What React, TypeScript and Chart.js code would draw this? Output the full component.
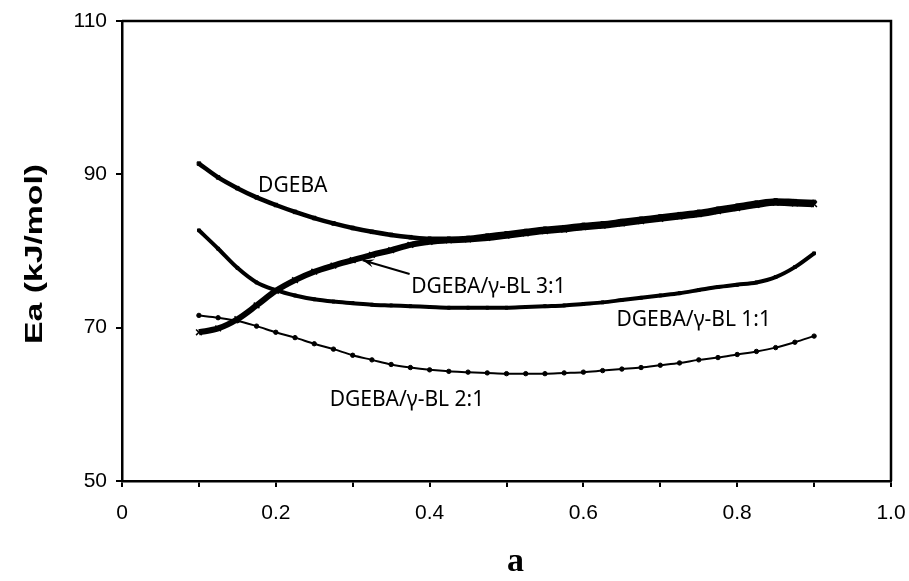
import React, { useEffect, useRef } from "react";
import { Chart, registerables } from "chart.js";

Chart.register(...registerables);

// Conversion (alpha) values
const alpha = [
  0.1, 0.125, 0.15, 0.175, 0.2, 0.225, 0.25, 0.275, 0.3, 0.325, 0.35, 0.375,
  0.4, 0.425, 0.45, 0.475, 0.5, 0.525, 0.55, 0.575, 0.6, 0.625, 0.65, 0.675,
  0.7, 0.725, 0.75, 0.775, 0.8, 0.825, 0.85, 0.875, 0.9,
];

// Activation energy Ea (kJ/mol)
const eaDGEBA = [
  91.4, 89.6, 88.2, 87.0, 86.0, 85.1, 84.3, 83.6, 83.0, 82.5, 82.1, 81.8,
  81.6, 81.6, 81.7, 82.0, 82.3, 82.6, 82.9, 83.1, 83.4, 83.6, 83.9, 84.2,
  84.5, 84.8, 85.1, 85.5, 85.9, 86.3, 86.6, 86.5, 86.4,
];
const ea31 = [
  69.4, 69.9, 71.1, 72.9, 74.8, 76.2, 77.3, 78.1, 78.8, 79.5, 80.1, 80.8,
  81.2, 81.4, 81.5, 81.7, 82.0, 82.3, 82.6, 82.8, 83.1, 83.3, 83.6, 83.9,
  84.2, 84.5, 84.8, 85.2, 85.6, 86.0, 86.3, 86.2, 86.1,
];
const ea11 = [
  82.7, 80.3, 77.8, 75.9, 74.9, 74.2, 73.7, 73.4, 73.2, 73.0, 72.9, 72.8,
  72.7, 72.6, 72.6, 72.6, 72.6, 72.7, 72.8, 72.9, 73.1, 73.3, 73.6, 73.9,
  74.2, 74.5, 74.9, 75.3, 75.6, 75.9, 76.6, 77.9, 79.7,
];
const ea21 = [
  71.6, 71.3, 70.9, 70.2, 69.4, 68.7, 67.9, 67.2, 66.4, 65.8, 65.2, 64.8,
  64.5, 64.3, 64.2, 64.1, 64.0, 64.0, 64.0, 64.1, 64.2, 64.4, 64.6, 64.8,
  65.1, 65.4, 65.8, 66.1, 66.5, 66.9, 67.4, 68.1, 68.9,
];

const xTickLabels = ["0", "0.2", "0.4", "0.6", "0.8", "1.0"];
const yTickLabels = ["50", "70", "90", "110"];

const seriesNames = ["DGEBA", "DGEBA/γ-BL 3:1", "DGEBA/γ-BL 1:1", "DGEBA/γ-BL 2:1"];
// label anchor positions (data coordinates: alpha, Ea), left-aligned, vertically centred
const labelAnchors = [
  [0.177, 88.5],
  [0.376, 75.3],
  [0.643, 71.0],
  [0.27, 60.6],
];
const arrowFrom = [0.374, 77.0];
const arrowTo = [0.313, 78.8];

const yTitle = "Ea (kJ/mol)";
const xTitle = "a";

const toPoints = (ys: number[]) => alpha.map((x, i) => ({ x, y: ys[i] }));

export default function App() {
  const ref = useRef<HTMLCanvasElement | null>(null);

  useEffect(() => {
    if (!ref.current) return;

    const annotate = {
      id: "annotate",
      afterDraw(chart: any) {
        const { ctx, chartArea, scales } = chart;
        const xs = scales.x;
        const ys = scales.y;
        ctx.save();
        // frame top/right
        ctx.strokeStyle = "#000";
        ctx.lineWidth = 2.5;
        ctx.beginPath();
        ctx.moveTo(chartArea.left, chartArea.top);
        ctx.lineTo(chartArea.right, chartArea.top);
        ctx.lineTo(chartArea.right, chartArea.bottom);
        ctx.stroke();

        // series labels
        ctx.fillStyle = "#000";
        ctx.font = '21px "Noto Sans"';
        ctx.textAlign = "left";
        ctx.textBaseline = "middle";
        seriesNames.forEach((name, i) => {
          const [ax, ay] = labelAnchors[i];
          ctx.fillText(name, xs.getPixelForValue(ax), ys.getPixelForValue(ay));
        });

        // arrow
        const x1 = xs.getPixelForValue(arrowFrom[0]);
        const y1 = ys.getPixelForValue(arrowFrom[1]);
        const x2 = xs.getPixelForValue(arrowTo[0]);
        const y2 = ys.getPixelForValue(arrowTo[1]);
        ctx.lineWidth = 2;
        ctx.beginPath();
        ctx.moveTo(x1, y1);
        ctx.lineTo(x2, y2);
        ctx.stroke();
        const ang = Math.atan2(y2 - y1, x2 - x1);
        const hl = 12;
        ctx.beginPath();
        ctx.moveTo(x2, y2);
        ctx.lineTo(x2 - hl * Math.cos(ang - 0.35), y2 - hl * Math.sin(ang - 0.35));
        ctx.lineTo(x2 - hl * 0.6 * Math.cos(ang), y2 - hl * 0.6 * Math.sin(ang));
        ctx.lineTo(x2 - hl * Math.cos(ang + 0.35), y2 - hl * Math.sin(ang + 0.35));
        ctx.closePath();
        ctx.fill();

        // axis titles
        ctx.font = 'bold 23px "Liberation Sans", Arial, sans-serif';
        ctx.textAlign = "center";
        ctx.textBaseline = "middle";
        const w = ctx.measureText(yTitle).width;
        ctx.save();
        ctx.translate(36, (chartArea.top + chartArea.bottom) / 2 + 3);
        ctx.rotate(-Math.PI / 2);
        ctx.scale(180 / w, 1);
        ctx.fillText(yTitle, 0, 0);
        ctx.restore();

        ctx.font = 'bold 34px "Liberation Serif", "Times New Roman", serif';
        ctx.fillText(xTitle, (chartArea.left + chartArea.right) / 2 + 9, 562);
        ctx.restore();
      },
    };

    const chart = new Chart(ref.current, {
      type: "line",
      data: {
        datasets: [
          {
            label: seriesNames[0],
            data: toPoints(eaDGEBA),
            borderColor: "#000",
            backgroundColor: "#000",
            borderWidth: 4.5,
            pointStyle: "rect",
            pointRadius: 2.5,
            pointBorderWidth: 1,
            cubicInterpolationMode: "monotone",
          },
          {
            label: seriesNames[1],
            data: toPoints(ea31),
            borderColor: "#000",
            backgroundColor: "#000",
            borderWidth: 6,
            pointStyle: "crossRot",
            pointRadius: 4,
            pointBorderWidth: 1.5,
            cubicInterpolationMode: "monotone",
          },
          {
            label: seriesNames[2],
            data: toPoints(ea11),
            borderColor: "#000",
            backgroundColor: "#000",
            borderWidth: 4,
            pointStyle: "rect",
            pointRadius: 2,
            pointBorderWidth: 1,
            cubicInterpolationMode: "monotone",
          },
          {
            label: seriesNames[3],
            data: toPoints(ea21),
            borderColor: "#000",
            backgroundColor: "#000",
            borderWidth: 2,
            pointStyle: "circle",
            pointRadius: 2.2,
            pointBorderWidth: 1,
            cubicInterpolationMode: "monotone",
          },
        ],
      },
      options: {
        animation: false,
        responsive: true,
        maintainAspectRatio: false,
        layout: { padding: { top: 21, right: 18, left: 0, bottom: 0 } },
        plugins: { legend: { display: false }, tooltip: { enabled: false } },
        scales: {
          x: {
            type: "linear",
            min: 0,
            max: 1,
            afterFit: (s: any) => {
              s.height = 100;
              s.paddingLeft = 0;
              s.paddingRight = 0;
            },
            border: { display: true, color: "#000", width: 2.5 },
            grid: {
              drawOnChartArea: false,
              drawTicks: true,
              tickLength: 6,
              color: "#000",
              lineWidth: 2,
            },
            ticks: {
              stepSize: 0.1,
              autoSkip: false,
              maxRotation: 0,
              padding: 14,
              color: "#000",
              font: { family: '"Liberation Sans", Arial, sans-serif', size: 21 },
              callback: (v: any) => {
                const i = Math.round(Number(v) * 10);
                return i % 2 === 0 ? xTickLabels[i / 2] : "";
              },
            },
          },
          y: {
            type: "linear",
            min: 50,
            max: 110,
            afterFit: (s: any) => {
              s.width = 122;
              s.paddingTop = 0;
              s.paddingBottom = 0;
            },
            border: { display: true, color: "#000", width: 2.5 },
            grid: {
              drawOnChartArea: false,
              drawTicks: true,
              tickLength: 6,
              color: "#000",
              lineWidth: 2,
            },
            ticks: {
              stepSize: 20,
              padding: 9,
              color: "#000",
              font: { family: '"Liberation Sans", Arial, sans-serif', size: 21 },
              callback: (v: any) => {
                const i = Math.round((Number(v) - 50) / 20);
                return yTickLabels[i] ?? "";
              },
            },
          },
        },
      },
      plugins: [annotate],
    });

    return () => chart.destroy();
  }, []);

  return (
    <div
      style={{
        position: "fixed",
        left: 0,
        top: 0,
        width: 909,
        height: 581,
        background: "#fff",
      }}
    >
      <canvas ref={ref} />
    </div>
  );
}
